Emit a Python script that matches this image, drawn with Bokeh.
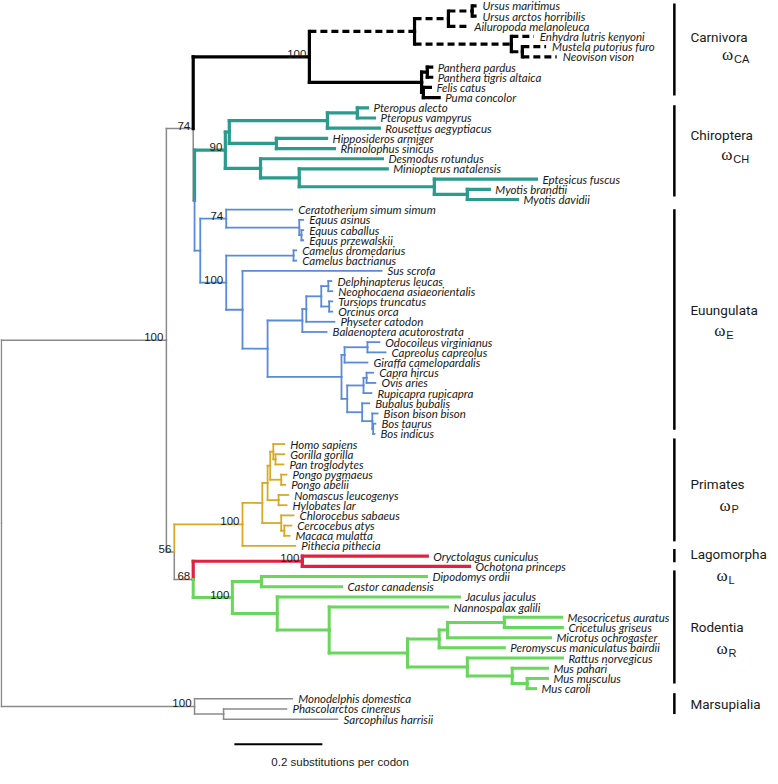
from bokeh.plotting import figure
from bokeh.models import Range1d
from bokeh.core.properties import value
from bokeh.embed import file_html
from bokeh.resources import INLINE

# ---------------- data ----------------
# tips, top to bottom, with parent node and tip depth (substitutions per codon from root)
leaf_names = [
    "Ursus maritimus", "Ursus arctos horribilis", "Ailuropoda melanoleuca", "Enhydra lutris kenyoni",
    "Mustela putorius furo", "Neovison vison", "Panthera pardus", "Panthera tigris altaica", "Felis catus",
    "Puma concolor",
    "Pteropus alecto", "Pteropus vampyrus", "Rousettus aegyptiacus", "Hipposideros armiger", "Rhinolophus sinicus",
    "Desmodus rotundus", "Miniopterus natalensis", "Eptesicus fuscus", "Myotis brandtii", "Myotis davidii",
    "Ceratotherium simum simum", "Equus asinus", "Equus caballus", "Equus przewalskii", "Camelus dromedarius",
    "Camelus bactrianus", "Sus scrofa", "Delphinapterus leucas", "Neophocaena asiaeorientalis", "Tursiops truncatus",
    "Orcinus orca", "Physeter catodon", "Balaenoptera acutorostrata", "Odocoileus virginianus", "Capreolus capreolus",
    "Giraffa camelopardalis", "Capra hircus", "Ovis aries", "Rupicapra rupicapra", "Bubalus bubalis",
    "Bison bison bison", "Bos taurus", "Bos indicus",
    "Homo sapiens", "Gorilla gorilla", "Pan troglodytes", "Pongo pygmaeus", "Pongo abelii", "Nomascus leucogenys",
    "Hylobates lar", "Chlorocebus sabaeus", "Cercocebus atys", "Macaca mulatta", "Pithecia pithecia",
    "Oryctolagus cuniculus", "Ochotona princeps",
    "Dipodomys ordii", "Castor canadensis", "Jaculus jaculus", "Nannospalax galili", "Mesocricetus auratus",
    "Cricetulus griseus", "Microtus ochrogaster", "Peromyscus maniculatus bairdii", "Rattus norvegicus",
    "Mus pahari", "Mus musculus", "Mus caroli",
    "Monodelphis domestica", "Phascolarctos cinereus", "Sarcophilus harrisii",
]
leaf_parents = [
    "Ursus", "Ursus", "Ursidae", "Mustelidae", "Mustelinae", "Mustelinae", "Panthera", "Panthera", "FelisPuma",
    "FelisPuma",
    "Pteropus", "Pteropus", "Pteropodidae", "Rhinolophoidea", "Rhinolophoidea", "Yangochiroptera", "MinioVesper",
    "Vespertilionidae", "Myotis", "Myotis",
    "Perissodactyla", "Equus", "EquusCP", "EquusCP", "Camelus", "Camelus", "Artiofabula", "Monodontoidea",
    "Monodontoidea", "Delphinidae", "Delphinidae", "Odontoceti", "Cetacea", "Cervidae", "Cervidae", "CervGir",
    "CapraOvis", "CapraOvis", "Caprini", "Bovini", "BisonBos", "Bos", "Bos",
    "Homininae", "GorPan", "GorPan", "Pongo", "Pongo", "Hylobatidae", "Hylobatidae", "Cercopithecidae",
    "Papionini", "Papionini", "Primates",
    "Lagomorpha", "Lagomorpha",
    "DipoCastor", "DipoCastor", "Myomorpha", "Muroidea", "Cricetinae", "Cricetinae", "CricMicro", "Cricetidae",
    "Muridae", "MusGenus", "MusMC", "MusMC",
    "Marsupialia", "PhasSarc", "PhasSarc",
]
leaf_depths = [
    1.080, 1.080, 1.061, 1.210, 1.238, 1.262, 0.978, 0.978, 0.975, 0.995,
    0.832, 0.848, 0.859, 0.739, 0.757, 0.866, 0.877, 1.216, 1.109, 1.173,
    0.661, 0.686, 0.686, 0.686, 0.670, 0.670, 0.864, 0.750, 0.752, 0.752, 0.752, 0.757, 0.739, 0.859, 0.873,
    0.832, 0.845, 0.850, 0.841, 0.836, 0.855, 0.850, 0.848,
    0.643, 0.643, 0.641, 0.648, 0.645, 0.652, 0.648, 0.664, 0.659, 0.655, 0.668,
    0.968, 1.064,
    0.966, 0.773, 1.041, 1.014, 1.273, 1.275, 1.248, 1.143, 1.275, 1.241, 1.241, 1.214,
    0.661, 0.648, 0.764,
]

# internal nodes with parent and depth
node_names = [
    "root", "Placentalia", "Laurasiatheria", "Carnivora", "Caniformia", "Ursidae", "Ursus", "Mustelidae",
    "Mustelinae", "Felidae", "Panthera", "FelisPuma", "Scrotifera", "Chiroptera", "Yinpterochiroptera",
    "Pteropodidae", "Pteropus", "Rhinolophoidea", "Yangochiroptera", "MinioVesper", "Vespertilionidae", "Myotis",
    "Euungulata", "Perissodactyla", "Equus", "EquusCP", "Artiodactyla", "Camelus", "Artiofabula", "Cetruminantia",
    "Cetacea", "Odontoceti", "Delphinoidea", "Monodontoidea", "Delphinidae", "Ruminantia", "CervGir", "Cervidae",
    "Bovidae", "Caprini", "CapraOvis", "Bovini", "BisonBos", "Bos", "Euarchontoglires", "Primates", "Catarrhini",
    "Hominoidea", "Hominidae", "Homininae", "GorPan", "Pongo", "Hylobatidae", "Cercopithecidae", "Papionini",
    "Glires", "Lagomorpha", "Rodentia", "DipoCastor", "Myomorpha", "Muroidea", "Eumuroida", "Cricetidae",
    "CricMicro", "Cricetinae", "Muridae", "MusGenus", "MusMC", "Marsupialia", "PhasSarc",
]
node_parents = [
    None, "root", "Placentalia", "Laurasiatheria", "Carnivora", "Caniformia", "Ursidae", "Caniformia",
    "Mustelidae", "Carnivora", "Felidae", "Felidae", "Laurasiatheria", "Scrotifera", "Chiroptera",
    "Yinpterochiroptera", "Pteropodidae", "Yinpterochiroptera", "Chiroptera", "Yangochiroptera", "MinioVesper",
    "Vespertilionidae",
    "Scrotifera", "Euungulata", "Perissodactyla", "Equus", "Euungulata", "Artiodactyla", "Artiodactyla",
    "Artiofabula", "Cetruminantia", "Cetacea", "Odontoceti", "Delphinoidea", "Delphinoidea", "Cetruminantia",
    "Ruminantia", "CervGir", "Ruminantia", "Bovidae", "Caprini", "Bovidae", "Bovini", "BisonBos",
    "Placentalia", "Euarchontoglires", "Primates", "Catarrhini", "Hominoidea", "Hominidae", "Homininae",
    "Hominidae", "Hominoidea", "Catarrhini", "Cercopithecidae",
    "Euarchontoglires", "Glires", "Glires", "Rodentia", "Rodentia", "Myomorpha", "Muroidea", "Eumuroida",
    "Cricetidae", "CricMicro", "Eumuroida", "Muridae", "MusGenus", "root", "Marsupialia",
]
node_depths = [
    0.0, 0.375, 0.436, 0.700, 0.939, 1.016, 1.070, 1.159, 1.184, 0.955, 0.968, 0.959, 0.439, 0.509, 0.518,
    0.741, 0.809, 0.625, 0.589, 0.677, 0.984, 1.059,
    0.452, 0.511, 0.677, 0.682, 0.511, 0.664, 0.548, 0.605, 0.684, 0.693, 0.727, 0.743, 0.745, 0.773, 0.780,
    0.832, 0.786, 0.823, 0.830, 0.820, 0.843, 0.845,
    0.393, 0.548, 0.593, 0.605, 0.611, 0.618, 0.623, 0.636, 0.630, 0.636, 0.643,
    0.436, 0.684, 0.525, 0.591, 0.627, 0.745, 0.923, 0.995, 1.014, 1.143, 1.059, 1.161, 1.195, 0.439, 0.505,
]

# bootstrap supports
boot_nodes = ["Placentalia", "Laurasiatheria", "Carnivora", "Chiroptera", "Perissodactyla", "Artiodactyla",
              "Euarchontoglires", "Primates", "Lagomorpha", "Glires", "Rodentia", "Marsupialia"]
boot_values = ["100", "74", "100", "90", "74", "100", "56", "100", "100", "68", "100", "100"]

# coloured clades (subtree styles)
style_clades = ["Carnivora", "Caniformia", "Chiroptera", "Euungulata", "Primates", "Lagomorpha", "Rodentia"]
style_colors = ["#000000", "#000000", "#2b9b8e", "#5a8bd6", "#d8a928", "#e2213f", "#69d65c"]
style_widths = [3.2, 3.2, 3.2, 1.8, 1.8, 3.2, 3.0]
style_dashes = ["solid", "7 4", "solid", "solid", "solid", "solid", "solid"]
base_color, base_width = "#8a8a8a", 1.5

# right-hand clade brackets (rows of tips)
clade_names = ["Carnivora", "Chiroptera", "Euungulata", "Primates", "Lagomorpha", "Rodentia", "Marsupialia"]
clade_bar_top = [-0.24, 9.76, 19.95, 42.45, 53.3, 55.4, 67.45]
clade_bar_bottom = [8.8, 18.7, 41.6, 52.55, 54.6, 66.5, 69.5]
clade_label_row = [3.1, 12.65, 29.8, 46.9, 53.8, 61.0, 68.5]
omega_subs = ["CA", "CH", "E", "P", "L", "R"]
omega_rows = [4.8, 14.6, 31.9, 49.0, 55.9, 63.1]
omega_x = [1.638, 1.636, 1.620, 1.632, 1.625, 1.625]
clade_bar_x = 1.5295
clade_label_x = 1.566

scale_start, scale_len, scale_row = 0.5295, 0.2, 72.45
scale_label, scale_label_x, scale_label_row = "0.2 substitutions per codon", 0.6136, 74.18

# ---------------- layout ----------------
depth = dict(zip(node_names, node_depths))
parent = dict(zip(node_names, node_parents))
for n, pnt, d in zip(leaf_names, leaf_parents, leaf_depths):
    depth[n] = d
    parent[n] = pnt

ypos = {n: float(i) for i, n in enumerate(leaf_names)}
children = {n: [] for n in node_names}
for n, pnt in parent.items():
    if pnt is not None:
        children[pnt].append(n)


def get_y(n):
    if n in ypos:
        return ypos[n]
    ys = [get_y(c) for c in children[n]]
    ypos[n] = (min(ys) + max(ys)) / 2.0
    return ypos[n]


get_y("root")


def style_of(n):
    while n is not None:
        if n in style_clades:
            return style_clades.index(n)
        n = parent[n]
    return -1


groups = {}
for n, pnt in parent.items():
    if pnt is None:
        continue
    s = style_of(n)
    g = groups.setdefault(s, {"vx0": [], "vy0": [], "vx1": [], "vy1": [], "hx0": [], "hy0": [], "hx1": [], "hy1": []})
    g["vx0"].append(depth[pnt]); g["vy0"].append(ypos[pnt])
    g["vx1"].append(depth[pnt]); g["vy1"].append(ypos[n])
    g["hx0"].append(depth[pnt]); g["hy0"].append(ypos[n])
    g["hx1"].append(depth[n]); g["hy1"].append(ypos[n])

W, H = 770, 768
p = figure(width=W, height=H, output_backend="svg", toolbar_location=None,
           x_range=Range1d(-0.002, -0.002 + W / 440.0), y_range=Range1d(74.84, -0.53),
           min_border=0, x_axis_location=None, y_axis_location=None)
p.grid.visible = False
p.outline_line_color = None
p.background_fill_color = "white"
p.border_fill_color = "white"

order = [-1] + list(range(len(style_clades)))
for s in order:
    if s not in groups:
        continue
    g = groups[s]
    if s < 0:
        col, w, dash = base_color, base_width, "solid"
    else:
        col, w, dash = style_colors[s], style_widths[s], style_dashes[s]
    p.segment(g["vx0"], g["vy0"], g["vx1"], g["vy1"], line_color=col, line_width=w, line_cap="square")
    p.segment(g["hx0"], g["hy0"], g["hx1"], g["hy1"], line_color=col, line_width=w, line_dash=dash,
              line_cap="square" if dash == "solid" else "butt")

# tip labels
p.text(x=[depth[n] for n in leaf_names], y=[ypos[n] for n in leaf_names], text=leaf_names,
       text_font=value("Lato"), text_font_style="italic", text_font_size="11.5px",
       text_baseline="middle", text_align="left", x_offset=6, text_color="#1a1a1a")

# bootstrap labels
p.text(x=[depth[n] for n in boot_nodes], y=[ypos[n] for n in boot_nodes], text=boot_values,
       text_font=value("Liberation Sans"), text_font_size="11.5px", text_align="right",
       text_baseline="alphabetic", x_offset=-3, y_offset=-3, text_color="#1a1a1a")

# scale bar
p.segment([scale_start], [scale_row], [scale_start + scale_len], [scale_row], line_color="black", line_width=2)
p.text(x=[scale_label_x], y=[scale_label_row], text=[scale_label], text_font=value("Liberation Sans"),
       text_font_size="11.5px", text_baseline="middle", text_align="left", text_color="#1a1a1a")

# clade bars and names
p.segment([clade_bar_x] * len(clade_names), clade_bar_top, [clade_bar_x] * len(clade_names), clade_bar_bottom,
          line_color="black", line_width=2.5)
p.text(x=[clade_label_x] * len(clade_names), y=clade_label_row, text=clade_names,
       text_font=value("Roboto"), text_font_size="13.5px", text_baseline="middle",
       text_align="left", text_color="#1a1a1a")
p.text(x=omega_x, y=omega_rows, text=["\u03c9"] * len(omega_x), text_font=value("Liberation Serif"),
       text_font_size="17px", text_baseline="middle", text_align="left", text_color="#1a1a1a")
p.text(x=omega_x, y=omega_rows, text=omega_subs, text_font=value("Liberation Sans"),
       text_font_size="11px", text_baseline="middle", text_align="left", x_offset=12, y_offset=4,
       text_color="#1a1a1a")

open("out.html", "w").write(file_html(p, INLINE))
